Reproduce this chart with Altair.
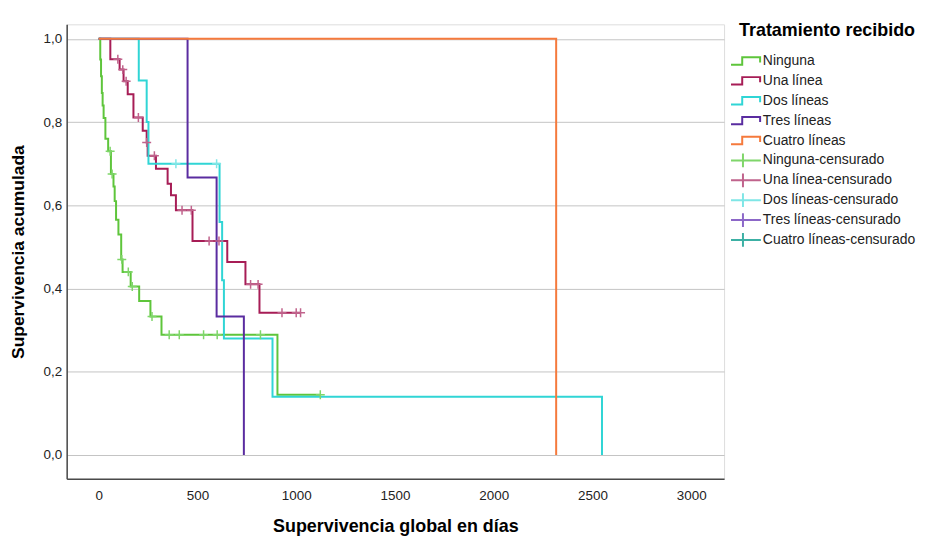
import altair as alt
import pandas as pd

# ---------------- data ----------------
series_names = ["Ninguna", "Una línea", "Dos líneas", "Tres líneas", "Cuatro líneas"]
censor_names = [n + "-censurado" for n in series_names]
line_colors = ["#5ec53b", "#a71d56", "#30d5d5", "#5a2ca0", "#f57a3c"]
censor_colors = ["#7fd66a", "#c0638c", "#7fe6e6", "#8c67c8", "#3cb0a4"]

ninguna_t = [0, 8, 12, 16, 20, 25, 34, 48, 62, 75, 81, 88, 100, 114, 121, 162, 205, 262, 318, 905, 1122]
ninguna_s = [1.0, 0.95, 0.91, 0.87, 0.84, 0.81, 0.76, 0.73, 0.675, 0.645, 0.61, 0.565, 0.53, 0.47, 0.44,
             0.405, 0.37, 0.333, 0.289, 0.145, 0.145]
ninguna_c = [58, 68, 117, 150, 170, 270, 357, 408, 531, 600, 819, 1122]

una_t = [0, 59, 106, 126, 147, 176, 223, 243, 248, 290, 349, 366, 391, 475, 651, 743, 814, 1022]
una_s = [1.0, 0.951, 0.926, 0.898, 0.867, 0.811, 0.779, 0.751, 0.719, 0.688, 0.652, 0.624, 0.588,
         0.514, 0.464, 0.41, 0.342, 0.342]
una_c = [97, 122, 139, 201, 243, 282, 422, 469, 559, 609, 769, 807, 928, 1000, 1022]

dos_t = [0, 203, 243, 252, 612, 625, 634, 880, 2548]
dos_s = [1.0, 0.9, 0.8, 0.7, 0.56, 0.42, 0.28, 0.14, 0.0]
dos_c = [391, 597]

tres_t = [0, 450, 597, 735]
tres_s = [1.0, 0.667, 0.333, 0.0]
tres_c = []

cuatro_t = [0, 2316]
cuatro_s = [1.0, 0.0]
cuatro_c = []

x_ticks = [0, 500, 1000, 1500, 2000, 2500, 3000]
y_ticks = [0.0, 0.2, 0.4, 0.6, 0.8, 1.0]

curves = [
    (series_names[0], ninguna_t, ninguna_s, ninguna_c),
    (series_names[1], una_t, una_s, una_c),
    (series_names[2], dos_t, dos_s, dos_c),
    (series_names[3], tres_t, tres_s, tres_c),
    (series_names[4], cuatro_t, cuatro_s, cuatro_c),
]


def level(ts, ss, t):
    v = ss[0]
    for tt, s in zip(ts, ss):
        if tt <= t:
            v = s
    return v


line_frames = []
cens_rows = []
for name, ts, ss, cs in curves:
    line_frames.append(pd.DataFrame({"serie": name, "dias": ts, "surv": ss, "orden": list(range(len(ts)))}))
    for c in cs:
        cens_rows.append({"serie": name + "-censurado", "dias": c, "surv": level(ts, ss, c)})
cens_df = pd.DataFrame(cens_rows)

FONT = "Liberation Sans"
all_names = series_names + censor_names
color_scale = alt.Scale(domain=all_names, range=line_colors + censor_colors)

step_path = "M-1,0.25L-0.25,0.25L-0.25,-0.25L0.95,-0.25L0.95,0.1"
cross_path = "M-1,0L1,0M-0.2,-0.46L-0.2,0.46"
shape_scale = alt.Scale(domain=all_names, range=[step_path] * 5 + [cross_path] * 5)

x_enc = alt.X(
    "dias:Q",
    scale=alt.Scale(domain=[-162, 3166], nice=False, zero=False),
    axis=alt.Axis(
        values=x_ticks, format="d", grid=False, ticks=False, domainColor="#4a4a4a", domainWidth=1.5,
        labelFont=FONT, labelFontSize=13.5, labelColor="#222222", labelPadding=10,
        labelOverlap=False, labelFlush=False,
        title="Supervivencia global en días", titleFont=FONT, titleFontSize=18,
        titleFontWeight="bold", titleColor="#000000", titlePadding=15,
    ),
)
y_enc = alt.Y(
    "surv:Q",
    scale=alt.Scale(domain=[-0.0573, 1.0347], nice=False, zero=False),
    axis=alt.Axis(
        values=y_ticks, grid=True, gridColor="#c4c4c4", gridWidth=1, ticks=False,
        domainColor="#4a4a4a", domainWidth=1.5,
        labelExpr="replace(format(datum.value, '.1f'), '.', ',')",
        labelFont=FONT, labelFontSize=13.5, labelColor="#222222", labelPadding=5,
        title="Supervivencia acumulada", titleFont=FONT, titleFontSize=17.5,
        titleFontWeight="bold", titleColor="#000000", titlePadding=16,
    ),
)

legend = alt.Legend(
    title="Tratamiento recibido", orient="none", legendX=667, legendY=-2,
    titleFont=FONT, titleFontSize=18, titleFontWeight="bold", titleColor="#000000",
    titlePadding=11, titleAnchor="end",
    labelFont=FONT, labelFontSize=14, labelColor="#222222", labelOffset=1,
    symbolSize=900, symbolStrokeWidth=2, symbolOpacity=1, rowPadding=0,
    clipHeight=19.6, symbolFillColor="transparent",
)

color_enc = alt.Color("serie:N", scale=color_scale, legend=legend)

layers = []
for i, df in enumerate(line_frames):
    layers.append(
        alt.Chart(df).mark_line(interpolate="step-after", strokeWidth=2).encode(
            x=x_enc if i == 0 else alt.X("dias:Q"),
            y=y_enc if i == 0 else alt.Y("surv:Q"),
            color=color_enc,
            order=alt.Order("orden:Q"),
        )
    )

# visible censor marks
points = alt.Chart(cens_df).mark_point(
    shape="M-1,0L1,0M0,-1L0,1", filled=False, size=81, strokeWidth=1.5, opacity=1
).encode(
    x="dias:Q",
    y="surv:Q",
    color=color_enc,
)

# invisible layer that carries the legend symbol shapes
legend_layer = alt.Chart(cens_df).mark_point(filled=False, opacity=0, size=81).encode(
    x="dias:Q",
    y="surv:Q",
    color=color_enc,
    shape=alt.Shape("serie:N", scale=shape_scale, legend=legend),
)

chart = alt.layer(*layers, points, legend_layer).properties(
    width=661, height=457,
    autosize=alt.AutoSizeParams(type="none"),
    padding={"left": 59, "top": 15, "right": 195, "bottom": 56},
).configure_view(stroke=None).configure(background="white")

chart.save("out.html", embed_options={"renderer": "svg", "actions": False})
